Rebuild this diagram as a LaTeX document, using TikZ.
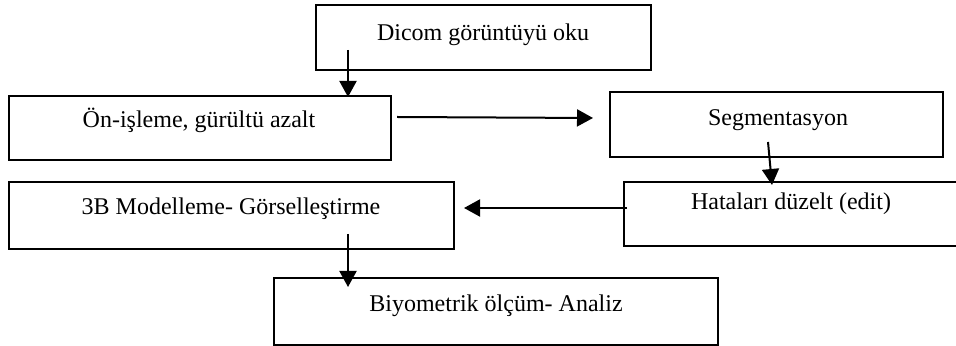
\documentclass[tikz,border=0pt]{standalone}
\usepackage{fontspec}
\setmainfont{Liberation Serif}
\usetikzlibrary{positioning, arrows.meta}

\begin{document}
\begin{tikzpicture}[x=0.5pt, y=-0.5pt,
  kutu/.style={draw, line width=1.2pt, inner sep=0pt, outer sep=0pt},
  yazi/.style={anchor=base, inner sep=0pt, font=\fontsize{12}{14}\selectfont},
  ok/.style={line width=1pt, -{Triangle[length=8pt, width=8.5pt]}}]
  \path[use as bounding box, fill=white] (0,0) rectangle (956,346);
  % boxes
  \node[kutu, minimum width=167.5pt, minimum height=32.5pt] (dicom) at (483.5,37.5) {};
  \node[kutu, minimum width=191pt, minimum height=32pt] (onisleme) at (200,128) {};
  \node[kutu, minimum width=166.5pt, minimum height=32.5pt] (segment) at (776.5,124.5) {};
  \node[kutu, minimum width=222.5pt, minimum height=33.5pt] (model) at (231.5,215.5) {};
  \node[kutu, minimum width=168pt, minimum height=32pt] (hata) at (792,214) {};
  \node[kutu, minimum width=222pt, minimum height=33.5pt] (biyo) at (496,311.5) {};
  % texts
  \node[yazi] (dicomt) at (483,41) {Dicom görüntüyü oku};
  \node[yazi] (onislemet) at (199,128) {Ön-işleme, gürültü azalt};
  \node[yazi] (segmentt) at (778,126) {Segmentasyon};
  \node[yazi] (modelt) at (231,215) {3B Modelleme- Görselleştirme};
  \node[yazi] (hatat) at (791,210) {Hataları düzelt (edit)};
  \node[yazi] (biyot) at (496,312) {Biyometrik ölçüm- Analiz};
  % arrows
  \draw[ok] ([shift={(32,-20)}]dicom.south west) -- ([shift={(-43,1)}]onisleme.north east);
  \draw[ok] ([shift={(6,-11)}]onisleme.east) -- ([shift={(-17,-6.5)}]segment.west);
  \draw[ok] ([shift={(-8.5,-15)}]segment.south) -- ([shift={(-20,3)}]hata.north);
  \draw[ok] ([shift={(3,-6)}]hata.west) -- ([shift={(10,-7.5)}]model.east);
  \draw[ok] ([shift={(339,-15)}]model.south west) -- ([shift={(74,9)}]biyo.north west);
\end{tikzpicture}
\end{document}
